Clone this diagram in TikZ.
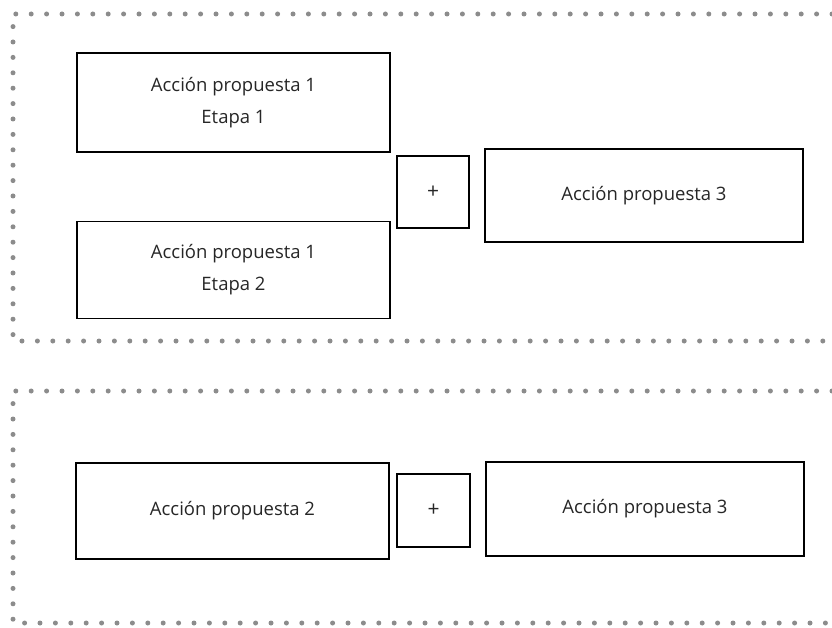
\documentclass[tikz,border=0pt]{standalone}
\usepackage{fontspec}
\setmainfont{Open Sans}
\usepackage{tikz}
\usetikzlibrary{positioning,calc}

\begin{document}
\begin{tikzpicture}[x=1pt, y=-1pt,
  font=\fontsize{18.5}{32}\selectfont, text=black!85,
  accion/.style={draw, line width=1.4pt, inner sep=0pt, align=center, minimum width=313pt, minimum height=97pt},
  suma/.style={draw, line width=1.4pt, inner sep=0pt, minimum size=72pt, font=\fontsize{21}{22}\selectfont},
  marco/.style={draw=black!45, line width=5pt, line cap=round, dash pattern=on 0pt off 15.4pt}]
  \useasboundingbox (0,0) rectangle (832,628);
  % recuadro superior
  \draw[marco] (832,14) -- (13,14) -- (13,341) -- (832,341);
  \node[accion, minimum height=99pt] (e1) at (233.5,102.5) {Acción propuesta 1\\Etapa 1};
  \node[accion] (e2) at (233.5,270) {Acción propuesta 1\\Etapa 2};
  \node[suma] (s1) at (433,192) {+};
  \node[accion, minimum width=318pt, minimum height=93pt] (p3a) at (644,195.5) {Acción propuesta 3};
  % recuadro inferior
  \draw[marco] (832,391) -- (13,391) -- (13,623) -- (832,623);
  \node[accion, minimum height=96pt] (p2) at (232.5,511) {Acción propuesta 2};
  \node[suma, minimum size=73pt] (s2) at (433.5,510.5) {+};
  \node[accion, minimum width=318pt, minimum height=94pt] (p3b) at (645,509) {Acción propuesta 3};
\end{tikzpicture}
\end{document}
